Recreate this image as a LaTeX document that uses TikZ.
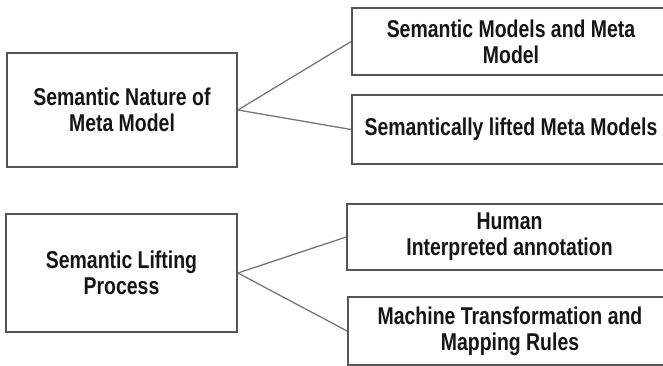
\documentclass[tikz,border=0pt]{standalone}
\usepackage{fontspec}
\setmainfont{Liberation Sans}[FakeStretch=0.8]
\definecolor{boxgray}{HTML}{555555}
\definecolor{linegray}{HTML}{767676}
\definecolor{txt}{HTML}{151515}
\begin{document}
\begin{tikzpicture}[x=1pt,y=-1pt,
  box/.style={draw=boxgray, line width=1.8pt, fill=white, inner sep=0pt, align=center, text=txt,
    font=\fontsize{24.3}{26}\selectfont\bfseries},
  conn/.style={draw=linegray, line width=1.3pt}]
\useasboundingbox (0,0) rectangle (663,366);
\clip (0,0) rectangle (663,366);
\node[box, minimum width=230pt, minimum height=114pt] (A) at (122,110) {Semantic Nature of\\Meta Model};
\node[box, minimum width=318pt, minimum height=67pt] (R1) at (511,41.5) {Semantic Models and Meta\\Model};
\node[box, minimum width=318pt, minimum height=69pt] (R2) at (511,129.5) {Semantically lifted Meta Models};
\node[box, minimum width=231pt, minimum height=118pt] (B) at (121.5,273) {Semantic Lifting\\Process};
\node[box, minimum width=325pt, minimum height=66pt] (R3) at (509.5,237) {Human\\Interpreted annotation};
\node[box, minimum width=324pt, minimum height=68pt] (R4) at (510,331) {Machine Transformation and\\Mapping Rules};
\draw[conn] (A.east) -- (R1.west);
\draw[conn] (A.east) -- (R2.west);
\draw[conn] (B.east) -- (R3.west);
\draw[conn] (B.east) -- (R4.west);
\end{tikzpicture}
\end{document}
